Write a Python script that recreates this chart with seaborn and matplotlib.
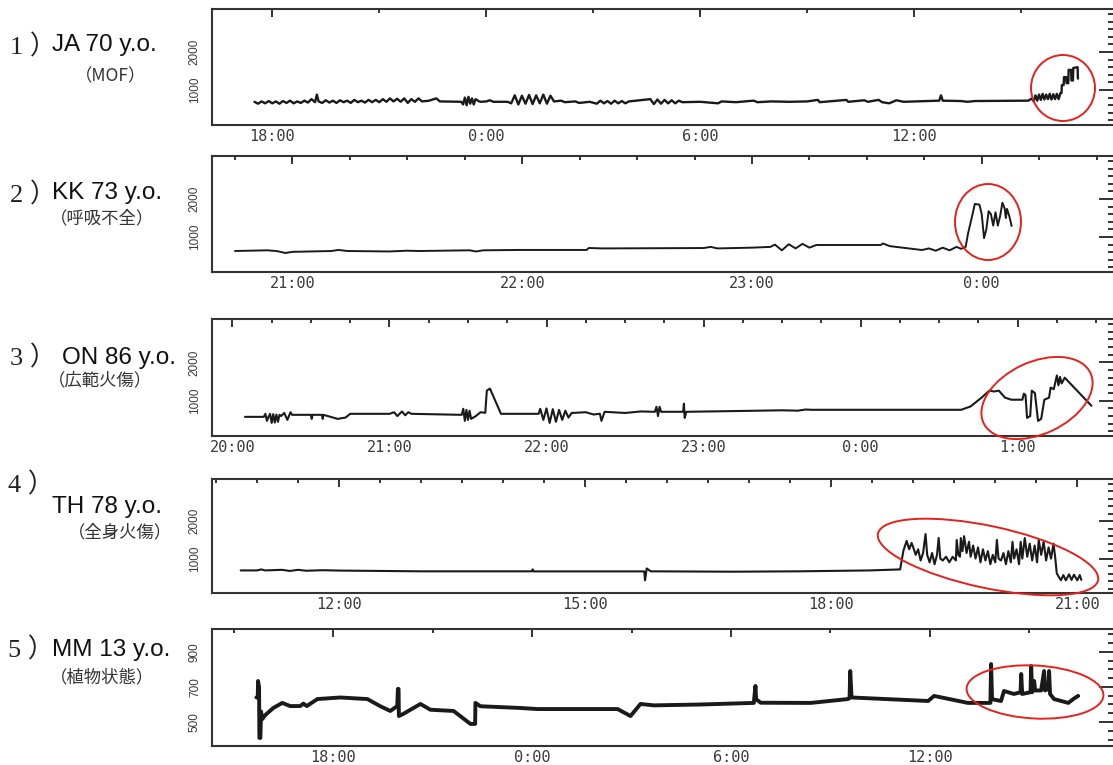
import numpy as np
import pandas as pd
import matplotlib
matplotlib.use("Agg")
import matplotlib.pyplot as plt
from matplotlib.patches import Ellipse
import seaborn as sns

sns.set_theme(style="white")
plt.rcParams['font.family'] = ['Liberation Sans', 'Noto Sans CJK JP', 'DejaVu Sans']

W, H = 1113, 765

# ---- traces: (clock hour, value); after midnight -> 24+ ----
ja_trace = [(17.50,690),(17.60,640),(17.70,700),(17.80,650),(17.90,710),(18.00,650),(18.10,700),(18.20,640),
            (18.30,710),(18.40,660),(18.50,720),(18.60,650),(18.70,700),(18.80,660),(18.90,720),(19.00,670),
            (19.10,760),(19.20,680),(19.25,880),(19.30,700),(19.40,660),(19.50,730),(19.60,670),(19.70,720),
            (19.80,660),(19.90,730),(20.00,680),(20.10,720),(20.20,660),(20.30,740),(20.40,680),(20.50,720),
            (20.60,670),(20.70,740),(20.80,680),(20.90,740),(21.00,680),(21.10,760),(21.20,690),(21.30,780),
            (21.40,700),(21.50,770),(21.60,690),(21.70,780),(21.80,660),(21.90,760),(22.00,690),(22.10,780),
            (22.20,700),(22.40,720),(22.60,780),(22.70,700),(23.30,690),(23.35,620),(23.40,800),(23.45,600),
            (23.50,820),(23.55,640),(23.60,780),(23.65,620),(23.70,760),(23.80,700),(23.85,690),(24.00,700),
            (24.10,730),(24.20,690),(24.60,690),(24.70,650),(24.80,860),(24.90,620),(25.00,850),(25.10,640),
            (25.20,870),(25.30,630),(25.40,860),(25.50,650),(25.60,880),(25.70,640),(25.80,850),(25.90,700),
            (26.10,720),(26.20,680),(26.50,700),(26.60,660),(26.90,690),(27.10,640),(27.20,720),(27.30,650),
            (27.40,710),(27.50,640),(27.60,720),(27.70,650),(27.80,710),(27.90,650),(28.00,700),(28.60,760),
            (28.70,630),(28.80,750),(28.90,640),(29.00,740),(29.10,650),(29.20,730),(29.30,650),(29.40,720),
            (29.50,680),(30.00,690),(30.50,650),(30.60,700),(31.00,680),(31.50,720),(31.60,680),(32.00,700),
            (32.50,690),(33.00,700),(33.30,740),(33.35,680),(34.10,740),(34.15,690),(34.60,730),(34.70,690),
            (35.00,740),(35.10,680),(35.30,650),(35.50,730),(35.70,690),(36.70,720),(36.75,860),(36.80,720),
            (37.30,710),(37.50,690),(37.70,710),(39.20,720),(39.30,780),(39.35,700),(39.40,860),(39.45,720),
            (39.50,880),(39.55,740),(39.60,900),(39.65,750),(39.70,880),(39.75,760),(39.80,900),(39.85,750),
            (39.90,890),(39.95,760),(40.00,900),(40.05,760),(40.10,920),(40.13,920),(40.14,1130),(40.19,1130),
            (40.20,1340),(40.26,1340),(40.27,1180),(40.32,1180),(40.33,1530),(40.40,1530),(40.41,1250),
            (40.45,1250),(40.46,1580),(40.58,1600),(40.59,1300)]

kk_trace = [(20.75,632),(20.89,650),(20.93,632),(20.97,580),(21.00,610),(21.17,632),(21.20,660),(21.24,632),
            (21.42,620),(21.50,640),(21.55,632),(21.77,650),(21.80,620),(21.83,650),(21.99,660),(22.28,660),
            (22.29,711),(22.35,700),(22.79,710),(22.82,740),(22.85,700),(23.00,720),(23.08,740),(23.10,800),
            (23.13,650),(23.16,810),(23.19,700),(23.22,820),(23.25,720),(23.28,790),(23.56,790),(23.57,830),
            (23.60,760),(23.74,658),(23.77,700),(23.80,640),(23.83,720),(23.86,650),(23.89,740),(23.91,690),
            (23.93,740),(23.94,1080),(23.96,1600),(23.97,1870),(23.99,1850),(24.00,1600),(24.01,970),
            (24.02,1200),(24.03,1680),(24.04,1600),(24.05,1300),(24.06,1650),(24.07,1300),(24.08,1550),
            (24.09,1900),(24.10,1750),(24.105,1500),(24.11,1740),(24.12,1550),(24.13,1290)]

on_trace = [(20.08,579),(20.20,579),(20.21,658),(20.22,474),(20.23,579),(20.24,658),(20.25,421),(20.26,650),
            (20.27,430),(20.28,640),(20.29,450),(20.30,632),(20.31,600),(20.33,680),(20.35,500),(20.37,700),
            (20.38,632),(20.50,632),(20.505,526),(20.51,632),(20.57,632),(20.575,526),(20.58,632),(20.67,526),
            (20.72,560),(20.75,658),(21.00,658),(21.03,700),(21.05,600),(21.08,720),(21.10,620),(21.12,700),
            (21.14,658),(21.46,632),(21.47,789),(21.48,474),(21.49,760),(21.50,500),(21.51,740),(21.52,526),
            (21.55,600),(21.58,700),(21.61,684),(21.62,1263),(21.64,1316),(21.71,658),(21.95,658),(21.96,789),
            (21.98,500),(22.00,800),(22.02,421),(22.04,780),(22.06,450),(22.08,760),(22.10,500),(22.12,740),
            (22.14,560),(22.16,680),(22.25,700),(22.30,640),(22.34,660),(22.35,474),(22.37,711),(22.50,680),
            (22.60,720),(22.69,711),(22.70,842),(22.71,600),(22.72,842),(22.73,711),(22.87,711),(22.875,921),
            (22.88,553),(22.89,711),(23.20,730),(23.50,750),(23.60,740),(23.65,770),(23.69,763),(24.64,763),
            (24.70,850),(24.77,1079),(24.82,1263),(24.85,1240),(24.88,1263),(24.92,1079),(24.96,1026),
            (25.03,1026),(25.04,1184),(25.05,1150),(25.06,553),(25.08,600),(25.09,1263),(25.11,1200),
            (25.13,474),(25.15,526),(25.17,1026),(25.20,1079),(25.21,1342),(25.23,1300),(25.25,1658),
            (25.26,1400),(25.27,1620),(25.28,1450),(25.30,1600),(25.47,868)]

th_trace = [(10.80,684),(11.00,684),(11.05,711),(11.10,684),(11.30,700),(11.40,670),(11.50,700),(11.60,675),
            (11.80,690),(12.00,680),(12.50,670),(13.00,660),(14.35,660),(14.36,711),(14.37,658),(15.72,658),
            (15.73,421),(15.75,737),(15.80,660),(16.80,650),(17.60,660),(18.47,684),(18.84,711),(18.88,1211),
            (18.92,1474),(18.95,1250),(18.98,1420),(19.00,1300),(19.03,1100),(19.06,1250),(19.09,950),
            (19.12,1150),(19.15,1658),(19.17,1100),(19.20,900),(19.23,1150),(19.26,850),(19.29,1100),
            (19.31,1553),(19.33,1000),(19.36,950),(19.40,1050),(19.44,900),(19.48,1050),(19.52,950),
            (19.53,1500),(19.55,1100),(19.57,1050),(19.58,1550),(19.60,1200),(19.62,1600),(19.65,1150),
            (19.68,1450),(19.70,1050),(19.73,1350),(19.76,1000),(19.79,1300),(19.82,900),(19.85,1250),
            (19.88,950),(19.91,1200),(19.94,850),(19.97,1100),(20.00,900),(20.02,1500),(20.04,1000),
            (20.07,950),(20.10,1150),(20.13,850),(20.16,1200),(20.19,900),(20.21,1450),(20.23,1000),
            (20.26,1250),(20.29,850),(20.31,1450),(20.33,1000),(20.36,1550),(20.39,1050),(20.42,1400),
            (20.45,950),(20.48,1350),(20.51,900),(20.53,1500),(20.56,1100),(20.59,1450),(20.62,950),
            (20.65,1300),(20.68,1000),(20.71,1400),(20.73,1050),(20.75,605),(20.80,420),(20.83,560),
            (20.86,420),(20.90,580),(20.93,430),(20.96,570),(21.00,420),(21.03,560),(21.05,430)]

mm_trace = [(15.68,640),(15.72,640),(15.73,734),(15.76,700),(15.77,409),(15.80,409),(15.82,560),(15.86,517),
            (15.95,540),(16.19,580),(16.46,609),(16.70,591),(17.00,591),(17.10,605),(17.20,591),(17.52,631),
            (18.21,640),(19.03,631),(19.42,590),(19.72,563),(19.93,591),(19.95,689),(19.97,689),(19.98,534),
            (20.11,546),(20.63,603),(20.93,570),(21.63,563),(22.14,489),(22.28,489),(22.29,609),(22.44,590),
            (23.65,580),(24.16,574),(26.58,574),(26.97,534),(27.27,603),(27.67,595),(29.09,600),(30.69,609),
            (30.74,706),(30.76,630),(30.90,610),(32.41,609),(33.53,631),(33.58,637),(33.60,791),(33.64,640),
            (35.95,620),(36.13,649),(37.15,609),(37.55,609),(37.83,609),(37.85,831),(37.88,630),(38.15,620),
            (38.24,677),(38.54,660),(38.74,670),(38.76,774),(38.79,660),(39.04,670),(39.06,820),(39.09,670),
            (39.15,734),(39.18,680),(39.36,680),(39.45,791),(39.48,680),(39.58,690),(39.60,791),(39.63,660),
            (39.75,631),(40.18,609),(40.36,635),(40.48,649)]

numbers = ["1 ）", "2 ）", "3 ）", "4 ）", "5 ）"]
patients = ["JA 70 y.o.", "KK 73 y.o.", "ON 86 y.o.", "TH 78 y.o.", "MM 13 y.o."]
diagnoses = ["（MOF）", "（呼吸不全）", "（広範火傷）", "（全身火傷）", "（植物状態）"]

x_major = [[18, 24, 30, 36], [21, 22, 23, 24], [20, 21, 22, 23, 24, 25], [12, 15, 18, 21], [18, 24, 30, 36]]
x_labels = [["18:00", "0:00", "6:00", "12:00"],
            ["21:00", "22:00", "23:00", "0:00"],
            ["20:00", "21:00", "22:00", "23:00", "0:00", "1:00"],
            ["12:00", "15:00", "18:00", "21:00"],
            ["18:00", "0:00", "6:00", "12:00"]]
y_major = [[1000, 2000], [1000, 2000], [1000, 2000], [1000, 2000], [500, 700, 900]]

# ---- layout ----
traces = [ja_trace, kk_trace, on_trace, th_trace, mm_trace]
boxes = [(9, 125), (156, 272), (319, 436), (479, 593), (629, 746)]   # top/bottom in px
xlims = [(16.31, 41.63), (20.65, 24.58), (19.87, 25.62), (10.45, 21.46), (14.34, 41.59)]
ylims = [(80, 3130)] * 4 + [(363, 1031)]
x_minor_step = [3, 0.25, 0.25, 0.5, 3]
y_minor_step = [200, 200, 200, 200, 50]
line_w = [1.7, 1.4, 1.5, 1.5, 2.8]
label_pos = [((10, 47), (52, 45), (75, 76)),
             ((10, 195), (52, 193), (50, 218)),
             ((10, 358), (62, 358), (48, 380)),
             ((8, 485), (52, 507), (68, 532)),
             ((8, 650), (52, 650), (50, 677))]
ellipses = [((1063, 88), 64, 66, 0), ((988, 222), 66, 76, 0), ((1037, 398), 118, 72, 25),
            ((988, 557), 225, 62, -12), ((1035, 692), 137, 53, -3)]

fig = plt.figure(figsize=(W / 100, H / 100), dpi=100)
ink = "#1a1a1a"

for i, tr in enumerate(traces):
    top, bot = boxes[i]
    ax = fig.add_axes([212 / W, 1 - bot / H, (1115 - 212) / W, (bot - top) / H])
    df = pd.DataFrame(tr, columns=["t", "v"])
    sns.lineplot(data=df, x="t", y="v", ax=ax, color=ink, lw=line_w[i],
                 sort=False, estimator=None)
    ax.set_xlim(*xlims[i])
    ax.set_ylim(*ylims[i])
    ax.set_xlabel("")
    ax.set_ylabel("")

    ax.set_xticks(x_major[i])
    ax.set_xticklabels(x_labels[i])
    s = x_minor_step[i]
    ax.set_xticks(np.arange(np.ceil(xlims[i][0] / s) * s, xlims[i][1], s), minor=True)
    ax.set_yticks(y_major[i])
    ax.set_yticklabels([str(v) for v in y_major[i]])
    s = y_minor_step[i]
    ax.set_yticks(np.arange(np.ceil(ylims[i][0] / s) * s, ylims[i][1], s), minor=True)

    ax.tick_params(which="both", direction="in", top=True, right=True, colors="#333333", width=1.4)
    ax.tick_params(axis="x", which="major", length=6, pad=3, labelsize=11,
                   labelfontfamily="DejaVu Sans Mono", labelcolor="#3a3a3a")
    ax.tick_params(axis="x", which="minor", length=2.6)
    ax.tick_params(axis="y", which="major", length=11.5, pad=8, labelsize=8.5,
                   labelrotation=90, labelcolor="#3a3a3a")
    ax.tick_params(axis="y", which="minor", length=5.4)
    for lab in ax.get_yticklabels():
        lab.set_va("center")
    for sp in ax.spines.values():
        sp.set_linewidth(1.5)
        sp.set_color("#333333")

    (nx, ny), (px, py), (dx, dy) = label_pos[i]
    fig.text(nx / W, 1 - ny / H, numbers[i], fontsize=19, va="center", ha="left",
             family=["Liberation Serif", "Noto Sans CJK JP"], color="#222222")
    fig.text(px / W, 1 - py / H, patients[i], fontsize=17.5, va="center", ha="left",
             family=["Liberation Sans"], color="#111111")
    fig.text(dx / W, 1 - dy / H, diagnoses[i], fontsize=12.5, va="center", ha="left",
             family=["Noto Sans CJK JP"], color="#333333")

for (cx, cy), w, h, ang in ellipses:
    fig.add_artist(Ellipse((cx / 100, (H - cy) / 100), w / 100, h / 100, angle=ang,
                           transform=fig.dpi_scale_trans, fill=False, ec="#e8201c", lw=1.4))

fig.savefig("out.png", dpi=100)
